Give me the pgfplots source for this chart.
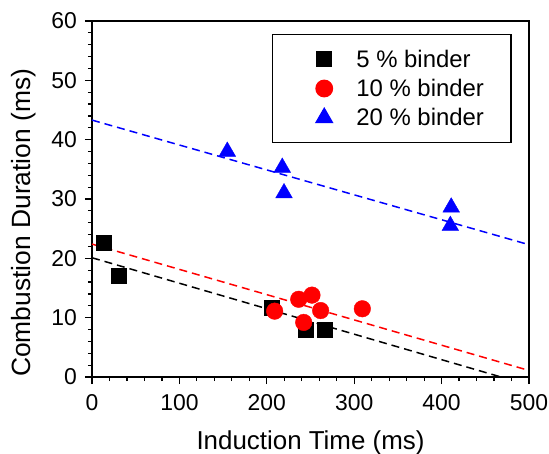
\documentclass[border=0pt]{standalone}
\usepackage{pgfplots}
\pgfplotsset{compat=1.18}
\usepackage{fontspec}
\setmainfont{Liberation Sans}
\pgfplotsset{mylegimg/.style={legend image code/.code={\path (0bp,-1bp) (52bp,1bp); \draw[##1, only marks] plot coordinates {(26bp,0bp)};}}}
\begin{document}
\begin{tikzpicture}[x=1bp,y=1bp]
\begin{axis}[
  name=ax,
  scale only axis,
  width=437bp, height=356bp,
  xmin=0, xmax=500, ymin=0, ymax=60,
  xtick={0,100,...,500}, ytick={0,10,...,60},
  minor x tick num=4, minor y tick num=4,
  tick align=outside,
  xtick pos=bottom, ytick pos=left,
  major tick length=7bp, minor tick length=4bp,
  every tick/.style={black, line width=1.2bp},
  axis line style={line width=1.2bp},
  /pgf/number format/assume math mode=true,
  tick label style={font=\fontsize{23}{28}\selectfont, inner sep=0bp},
  xticklabel style={anchor=base, yshift=-26bp},
  yticklabel style={anchor=east, xshift=-8bp},
  xlabel={Induction Time (ms)},
  ylabel={Combustion Duration (ms)},
  xlabel style={font=\fontsize{26}{30}\selectfont, inner sep=0bp,
    at={(axis description cs:0.5,-0.205)}, anchor=base},
  ylabel style={font=\fontsize{26.5}{30}\selectfont, inner sep=0bp,
    at={(axis description cs:-0.127,0)}, anchor=south west},
  legend style={at={(0.412,0.963)}, anchor=north west, draw=black, line width=1.2bp,
    font=\fontsize{24}{28}\selectfont, inner xsep=25bp, inner ysep=13bp, row sep=6.5bp,
    nodes={inner sep=2bp},
    /tikz/every odd column/.append style={column sep=3.5bp}},
  legend cell align=left,
  clip=false,
]
\addplot[only marks, mark=square*, mark size=7.5bp, black, mylegimg] coordinates {
 (13,22.6) (31,17.1) (206,11.7) (244,8.0) (266,8.0)};
\addlegendentry{5 \% binder}
\addplot[only marks, mark=*, mark size=8.3bp, red, mark options={fill=red, draw=red}, mylegimg] coordinates {
 (209,11.1) (236.5,13.1) (251.7,13.8) (261.6,11.2) (242.2,9.2) (309.3,11.5)};
\addlegendentry{10 \% binder}
\addplot[only marks, mark=triangle*, mark size=9.6bp, blue, mark options={fill=blue, draw=blue}, mylegimg] coordinates {
 (154.8,38.0) (217.7,35.3) (219.7,31.0) (411,28.6) (410,25.5)};
\addlegendentry{20 \% binder}
\addplot[black, line width=1.5bp, dash pattern=on 8bp off 5bp, forget plot] coordinates {(0,20.1) (468,0)};
\addplot[red, line width=1.5bp, dash pattern=on 8bp off 5bp, forget plot] coordinates {(0,22.4) (500,1.1)};
\addplot[blue, line width=1.5bp, dash pattern=on 8bp off 5bp, forget plot] coordinates {(0,43.3) (500,22.3)};
\end{axis}
\pgfresetboundingbox
\path[use as bounding box] ([xshift=-92bp,yshift=-77bp]ax.south west) rectangle ([xshift=20bp,yshift=21bp]ax.north east);
\end{tikzpicture}
\end{document}
